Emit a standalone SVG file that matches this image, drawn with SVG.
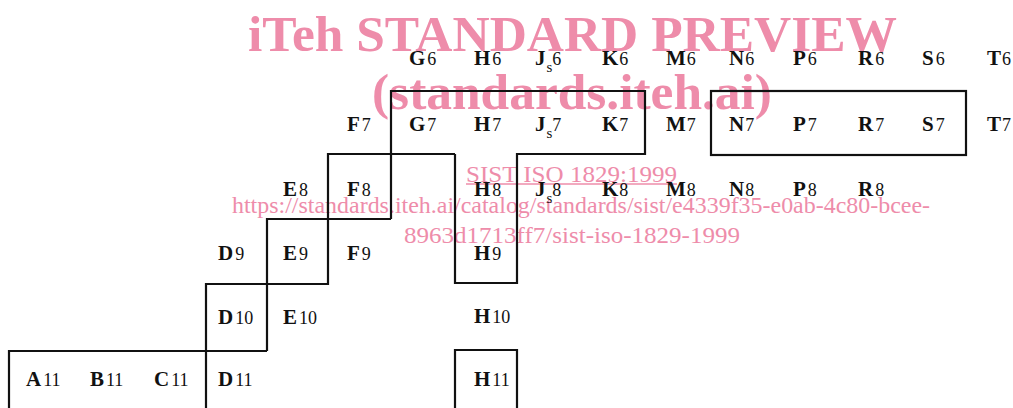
<svg xmlns="http://www.w3.org/2000/svg" width="1013" height="408" viewBox="0 0 1013 408">
<style>
.wm{font-family:"Liberation Serif",serif;fill:#EE8CAA}
.big{font-size:51px;font-weight:bold}
.url{font-size:24px}
.lbl{font-family:"Liberation Serif",serif;font-size:21px;font-weight:bold;fill:#111}
.n{font-size:18px;font-weight:normal}
.s{font-size:15px;font-weight:normal}
.ln{fill:none;stroke:#111;stroke-width:2.2;stroke-linejoin:miter}
</style>
<rect width="1013" height="408" fill="#fff"/>
<g id="watermark">
<text class="wm big" x="248" y="51" textLength="649" lengthAdjust="spacingAndGlyphs">iTeh STANDARD PREVIEW</text>
<text class="wm big" x="372" y="109" textLength="400" lengthAdjust="spacingAndGlyphs">(standards.iteh.ai)</text>
<text class="wm url" x="466" y="182" textLength="211" lengthAdjust="spacingAndGlyphs">SIST ISO 1829:1999</text>
<line x1="466" y1="184" x2="677" y2="184" stroke="#EE8CAA" stroke-width="1.5"/>
<text class="wm url" x="232" y="213" textLength="698" lengthAdjust="spacingAndGlyphs">https://standards.iteh.ai/catalog/standards/sist/e4339f35-e0ab-4c80-bcee-</text>
<text class="wm url" x="404" y="243" textLength="336" lengthAdjust="spacingAndGlyphs">8963d1713ff7/sist-iso-1829-1999</text>
</g>
<g id="connectors">
<path class="ln" d="M391,219 V91 H645 V154 H517 V283 H455 V154"/>
<path class="ln" d="M455,154 H328 V284 H206 V408"/>
<path class="ln" d="M267,351 V219 H391"/>
<path class="ln" d="M9,408 V351 H267"/>
<rect class="ln" x="711" y="91" width="255" height="64"/>
<path class="ln" d="M455,408 V350 H517 V408"/>
</g>
<g id="row6">
<text id="G6" class="lbl" x="409" y="65">G<tspan class="n" dx="2">6</tspan></text>
<text id="H6" class="lbl" x="474" y="65">H<tspan class="n" dx="2">6</tspan></text>
<text id="Js6" class="lbl" x="535" y="65">J<tspan class="s" dy="7" dx="1">s</tspan><tspan class="n" dy="-7">6</tspan></text>
<text id="K6" class="lbl" x="602" y="65">K<tspan class="n" dx="1">6</tspan></text>
<text id="M6" class="lbl" x="666" y="65">M<tspan class="n" dx="1">6</tspan></text>
<text id="N6" class="lbl" x="729" y="65">N<tspan class="n" dx="1">6</tspan></text>
<text id="P6" class="lbl" x="793" y="65">P<tspan class="n" dx="2">6</tspan></text>
<text id="R6" class="lbl" x="858" y="65">R<tspan class="n" dx="2">6</tspan></text>
<text id="S6" class="lbl" x="922" y="65">S<tspan class="n" dx="2">6</tspan></text>
<text id="T6" class="lbl" x="987" y="65">T<tspan class="n" dx="1">6</tspan></text>
</g>
<g id="row7">
<text id="F7" class="lbl" x="347" y="131">F<tspan class="n" dx="2">7</tspan></text>
<text id="G7" class="lbl" x="409" y="131">G<tspan class="n" dx="2">7</tspan></text>
<text id="H7" class="lbl" x="474" y="131">H<tspan class="n" dx="2">7</tspan></text>
<text id="Js7" class="lbl" x="535" y="131">J<tspan class="s" dy="7" dx="1">s</tspan><tspan class="n" dy="-7">7</tspan></text>
<text id="K7" class="lbl" x="602" y="131">K<tspan class="n" dx="1">7</tspan></text>
<text id="M7" class="lbl" x="666" y="131">M<tspan class="n" dx="1">7</tspan></text>
<text id="N7" class="lbl" x="729" y="131">N<tspan class="n" dx="1">7</tspan></text>
<text id="P7" class="lbl" x="793" y="131">P<tspan class="n" dx="2">7</tspan></text>
<text id="R7" class="lbl" x="858" y="131">R<tspan class="n" dx="2">7</tspan></text>
<text id="S7" class="lbl" x="922" y="131">S<tspan class="n" dx="2">7</tspan></text>
<text id="T7" class="lbl" x="987" y="131">T<tspan class="n" dx="1">7</tspan></text>
</g>
<g id="row8">
<text id="E8" class="lbl" x="283" y="196">E<tspan class="n" dx="2">8</tspan></text>
<text id="F8" class="lbl" x="347" y="196">F<tspan class="n" dx="2">8</tspan></text>
<text id="H8" class="lbl" x="474" y="196">H<tspan class="n" dx="2">8</tspan></text>
<text id="Js8" class="lbl" x="535" y="196">J<tspan class="s" dy="7" dx="1">s</tspan><tspan class="n" dy="-7">8</tspan></text>
<text id="K8" class="lbl" x="602" y="196">K<tspan class="n" dx="1">8</tspan></text>
<text id="M8" class="lbl" x="666" y="196">M<tspan class="n" dx="1">8</tspan></text>
<text id="N8" class="lbl" x="729" y="196">N<tspan class="n" dx="1">8</tspan></text>
<text id="P8" class="lbl" x="793" y="196">P<tspan class="n" dx="2">8</tspan></text>
<text id="R8" class="lbl" x="858" y="196">R<tspan class="n" dx="2">8</tspan></text>
</g>
<g id="row9">
<text id="D9" class="lbl" x="218" y="260">D<tspan class="n" dx="2">9</tspan></text>
<text id="E9" class="lbl" x="283" y="260">E<tspan class="n" dx="2">9</tspan></text>
<text id="F9" class="lbl" x="347" y="260">F<tspan class="n" dx="2">9</tspan></text>
<text id="H9" class="lbl" x="474" y="260">H<tspan class="n" dx="2">9</tspan></text>
</g>
<g id="row10">
<text id="D10" class="lbl" x="218" y="324">D<tspan class="n" dx="2">10</tspan></text>
<text id="E10" class="lbl" x="283" y="324">E<tspan class="n" dx="2">10</tspan></text>
<text id="H10" class="lbl" x="474" y="323">H<tspan class="n" dx="2">10</tspan></text>
</g>
<g id="row11">
<text id="A11" class="lbl" x="26" y="386">A<tspan class="n" dx="2">11</tspan></text>
<text id="B11" class="lbl" x="90" y="386">B<tspan class="n" dx="2">11</tspan></text>
<text id="C11" class="lbl" x="154" y="386">C<tspan class="n" dx="2">11</tspan></text>
<text id="D11" class="lbl" x="218" y="386">D<tspan class="n" dx="2">11</tspan></text>
<text id="H11" class="lbl" x="474" y="386">H<tspan class="n" dx="2">11</tspan></text>
</g>
</svg>
